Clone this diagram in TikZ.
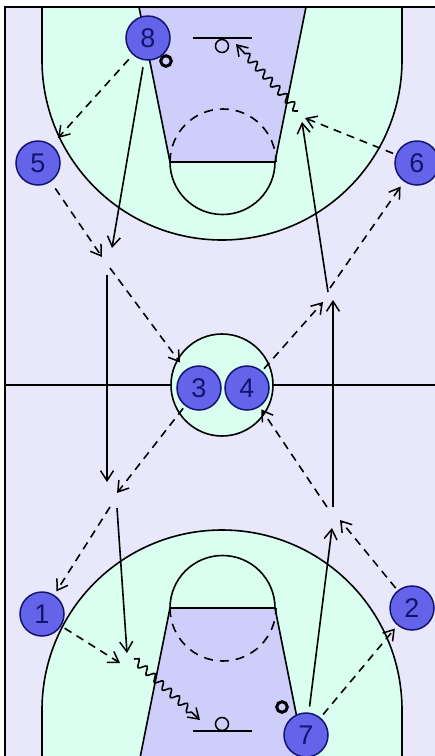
\documentclass[tikz,border=0pt]{standalone}
\usepackage{fontspec}
\setmainfont{Liberation Sans}
\usetikzlibrary{arrows.meta,decorations.pathmorphing}
\definecolor{bgc}{RGB}{232,232,250}
\definecolor{keyc}{RGB}{218,255,240}
\definecolor{lanec}{RGB}{206,206,250}
\definecolor{pfill}{RGB}{100,100,235}
\definecolor{pline}{RGB}{20,20,110}
\begin{document}
\begin{tikzpicture}[x=1pt,y=-1pt,
  player/.style={circle,draw=pline,fill=pfill,line width=1.5pt,minimum size=44pt,inner sep=0pt,text=pline,font=\fontsize{27}{27}\selectfont},
  courtline/.style={line width=1.6pt,black},
  tip/.style={-{Straight Barb[length=10pt,width=13pt,line width=1.5pt]}},
  pass/.style={tip,line width=1.6pt,dash pattern=on 8pt off 6pt},
  run/.style={tip,line width=1.6pt},
  drib/.style={tip,line width=1.6pt,decorate,decoration={snake,segment length=11pt,amplitude=3.6pt,post length=9pt}},
  ball/.style={draw=black,line width=3pt}]
\useasboundingbox (0,0) rectangle (435,756);
\clip (0,0) rectangle (435,756);
\fill[white] (0,0) rectangle (435,756);
\fill[bgc] (5,7) rectangle (439,763);
% top half
\filldraw[keyc,draw=black,line width=1.6pt] (42,7) -- (42,60) arc[start angle=180,end angle=0,radius=180] -- (402,7);
\fill[lanec] (139,7) -- (170,162) -- (275,162) -- (306,7) -- cycle;
\draw[courtline] (139,7) -- (170,162) -- (275,162) -- (306,7);
\filldraw[keyc,draw=black,line width=1.6pt] (170,162) arc[start angle=180,end angle=0,radius=52.5] -- cycle;
\draw[courtline] (170,162) -- (275,162);
\draw[line width=1.6pt,dash pattern=on 9pt off 7pt] (170,162) arc[start angle=180,end angle=360,radius=53];
\draw[courtline] (193,38) -- (252,38);
\draw[line width=1.5pt] (222,46) circle[radius=6.5];
% bottom half
\filldraw[keyc,draw=black,line width=1.6pt] (42,763) -- (42,710) arc[start angle=180,end angle=360,radius=180] -- (402,763);
\fill[lanec] (139,763) -- (170,608) -- (275,608) -- (306,763) -- cycle;
\draw[courtline] (139,763) -- (170,608) -- (275,608) -- (306,763);
\filldraw[keyc,draw=black,line width=1.6pt] (170,608) arc[start angle=180,end angle=360,radius=52.5] -- cycle;
\draw[courtline] (170,608) -- (275,608);
\draw[line width=1.6pt,dash pattern=on 9pt off 7pt] (170,608) arc[start angle=180,end angle=0,radius=53];
\draw[courtline] (193,731) -- (252,731);
\draw[line width=1.5pt] (222,724) circle[radius=6.5];
% centre
\draw[courtline] (5,385) -- (439,385);
\filldraw[keyc,draw=black,line width=1.6pt] (222,385) circle[radius=51];
% border
\draw[line width=2.2pt] (5,763) -- (5,7) -- (439,7);
% balls
\draw[ball] (166,61) circle[radius=5.3];
\draw[ball] (282,707) circle[radius=5.3];
% players
\node[player] (p8) at (148,38) {8};
\node[player] (p5) at (38,163) {5};
\node[player] (p6) at (417,163) {6};
\node[player] (p3) at (199,388) {3};
\node[player] (p4) at (247,388) {4};
\node[player] (p1) at (42,614) {1};
\node[player] (p2) at (412,608) {2};
\node[player] (p7) at (306,735) {7};
% free ends
\coordinate (e85) at (58,138);
\coordinate (e8d) at (112,248);
\coordinate (e5d) at (102,257);
\coordinate (s53) at (110,268);
\coordinate (v1s) at (107,275);
\coordinate (v1e) at (107,482);
\coordinate (e3d) at (117,493);
\coordinate (s31) at (110,507);
\coordinate (s1r) at (117,508);
\coordinate (e1r) at (127,653);
\coordinate (e1p) at (120,663);
\coordinate (d1s) at (134,659);
\coordinate (d1e) at (200,720);
\coordinate (e7u) at (332,528);
\coordinate (e2u) at (340,520);
\coordinate (s24) at (327,507);
\coordinate (v2s) at (333,507);
\coordinate (v2e) at (333,300);
\coordinate (e4u) at (323,302);
\coordinate (s46) at (330,288);
\coordinate (s4r) at (328,292);
\coordinate (e4r) at (302,122);
\coordinate (e6p) at (305,118);
\coordinate (d2s) at (298,111);
\coordinate (d2e) at (236,44);
% connectors
\draw[pass,shorten <=6pt] (p8) -- (e85);
\draw[run,shorten <=7pt] (p8) -- (e8d);
\draw[pass,shorten <=8pt] (p5) -- (e5d);
\draw[pass,shorten >=9pt] (s53) -- (p3);
\draw[run] (v1s) -- (v1e);
\draw[pass,shorten <=3pt] (p3) -- (e3d);
\draw[pass,shorten >=4pt] (s31) -- (p1);
\draw[run] (s1r) -- (e1r);
\draw[pass,shorten <=4pt] (p1) -- (e1p);
\draw[drib] (d1s) -- (d1e);
\draw[run,shorten <=6pt] (p7) -- (e7u);
\draw[pass,shorten <=4pt,shorten >=4pt] (p7) -- (p2);
\draw[pass,shorten <=3pt] (p2) -- (e2u);
\draw[pass,shorten >=3pt] (s24) -- (p4);
\draw[run] (v2s) -- (v2e);
\draw[pass,shorten <=3pt] (p4) -- (e4u);
\draw[pass,shorten >=6pt] (s46) -- (p6);
\draw[run] (s4r) -- (e4r);
\draw[pass,shorten <=3pt] (p6) -- (e6p);
\draw[drib] (d2s) -- (d2e);
\end{tikzpicture}
\end{document}
